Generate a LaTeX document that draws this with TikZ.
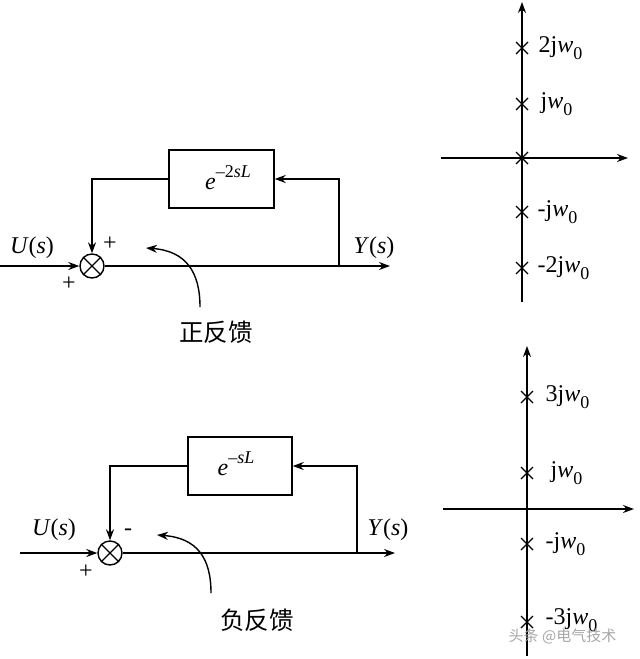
\documentclass[tikz,border=0pt]{standalone}
\usepackage{fontspec}
\setmainfont{Liberation Serif}
\newfontfamily\cjk{Noto Sans CJK SC}
\usetikzlibrary{arrows.meta}
\newcommand\subzero{\raisebox{-0.28em}{\fontsize{18}{20}\selectfont 0}}
\newcommand\supexp[1]{\raisebox{0.5em}{\fontsize{18}{20}\selectfont #1}}
\begin{document}
\begin{tikzpicture}[x=1pt,y=1pt,line width=1.4pt,
  arr/.style={-{Stealth[length=11pt,width=8pt]}},
  lbl/.style={font=\fontsize{24}{28}\selectfont,inner sep=0pt},
  cn/.style={font=\cjk\fontsize{24.5}{28}\selectfont,inner sep=0pt},
  sumj/.style={circle,draw,minimum size=24pt,inner sep=0pt},
  blk/.style={draw,rectangle,inner sep=0pt},
  pole/.pic={\draw[line width=1.2pt] (-6,-6)--(6,6) (-6,6)--(6,-6);}]
\useasboundingbox (0,0) rectangle (640,-659);

% ---------- top: positive feedback ----------
\coordinate (in1) at (0,-266);
\node[sumj] (s1) at (92,-266) {};
\draw (s1.north east)--(s1.south west) (s1.north west)--(s1.south east);
\node[blk,minimum width=105pt,minimum height=58pt] (b1) at (221.5,-179) {};
\node[lbl] (e1) at (228,-178) {\textit{e}\supexp{–2\textit{sL}}};
\coordinate (br1) at (339,-266);
\coordinate (out1) at (390,-266);
\draw[arr] (in1) -- (s1.west);
\draw[arr] (s1.east) -- (out1);
\draw[arr] (br1) |- (b1.east);
\draw[arr] (b1.west) -| (s1.north);
\node[lbl] (u1) at (32,-248) {\textit{U}(\textit{s})};
\node[lbl] (y1) at (374,-248) {\textit{Y}(\textit{s})};
\node[lbl] (p1a) at (110,-244) {+};
\node[lbl] (p1b) at (69,-284) {+};
\coordinate (c1s) at (200,-307);
\coordinate (c1e) at (146,-248);
\draw[arr] (c1s) .. controls (200,-272) and (186,-251) .. (c1e);
\node[cn] (t1) at (216,-332) {正反馈};

% ---------- bottom: negative feedback ----------
\coordinate (in2) at (20,-553);
\node[sumj] (s2) at (110,-553) {};
\draw (s2.north east)--(s2.south west) (s2.north west)--(s2.south east);
\node[blk,minimum width=104pt,minimum height=58pt] (b2) at (240,-466) {};
\node[lbl] (e2) at (236,-464) {\textit{e}\supexp{–\textit{sL}}};
\coordinate (br2) at (357,-553);
\coordinate (out2) at (395,-553);
\draw[arr] (in2) -- (s2.west);
\draw[arr] (s2.east) -- (out2);
\draw[arr] (br2) |- (b2.east);
\draw[arr] (b2.west) -| (s2.north);
\node[lbl] (u2) at (54,-530) {\textit{U}(\textit{s})};
\node[lbl] (y2) at (388,-530) {\textit{Y}(\textit{s})};
\node[lbl] (m2) at (128,-532) {-};
\node[lbl] (p2) at (86,-572) {+};
\coordinate (c2s) at (211,-593);
\coordinate (c2e) at (157,-535);
\draw[arr] (c2s) .. controls (211,-558) and (197,-538) .. (c2e);
\node[cn] (t2) at (257,-620) {负反馈};

% ---------- top right: poles ----------
\coordinate (v1b) at (522,-302);
\coordinate (v1t) at (522,-2);
\coordinate (h1l) at (441,-158);
\coordinate (h1r) at (628,-158);
\draw[arr] (v1b) -- (v1t);
\draw[arr] (h1l) -- (h1r);
\pic at (522,-48) {pole};
\pic at (522,-104) {pole};
\pic at (522,-158) {pole};
\pic at (522,-212) {pole};
\pic at (522,-268) {pole};
\node[lbl,anchor=west] (q1) at (538,-48) {2j\textit{w}\subzero};
\node[lbl,anchor=west] (q2) at (540,-104) {j\textit{w}\subzero};
\node[lbl,anchor=west] (q3) at (537,-212) {-j\textit{w}\subzero};
\node[lbl,anchor=west] (q4) at (537,-268) {-2j\textit{w}\subzero};

% ---------- bottom right: poles ----------
\coordinate (v2b) at (527,-656);
\coordinate (v2t) at (527,-346);
\coordinate (h2l) at (443,-509);
\coordinate (h2r) at (634,-509);
\draw[arr] (v2b) -- (v2t);
\draw[arr] (h2l) -- (h2r);
\pic at (527,-397) {pole};
\pic at (527,-473) {pole};
\pic at (527,-544) {pole};
\pic at (527,-622) {pole};
\node[lbl,anchor=west] (r1) at (545,-397) {3j\textit{w}\subzero};
\node[lbl,anchor=west] (r2) at (550,-473) {j\textit{w}\subzero};
\node[lbl,anchor=west] (r3) at (545,-544) {-j\textit{w}\subzero};
\node[lbl,anchor=west] (r4) at (545,-620) {-3j\textit{w}\subzero};
\node[font=\cjk\fontsize{15}{17}\selectfont,text=gray!70,inner sep=0pt,anchor=west] (wm) at (508,-636) {头条 @电气技术};
\end{tikzpicture}
\end{document}
